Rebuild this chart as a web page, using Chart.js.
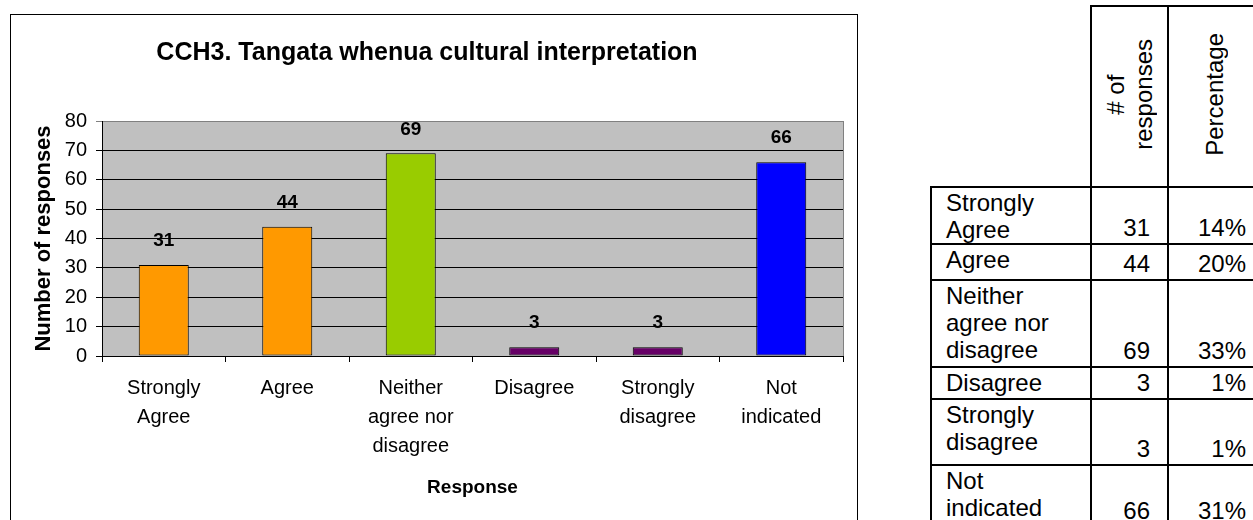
<!DOCTYPE html>
<html>
<head>
<meta charset="utf-8">
<script src="https://cdn.jsdelivr.net/npm/chart.js@4.4.0/dist/chart.umd.min.js"></script>
<style>
body{margin:0;background:#fff;overflow:hidden;font-family:"Liberation Sans",Arial,sans-serif;}
#box{position:absolute;left:10px;top:14px;width:846px;height:512px;border:1px solid #000;}
#responseChart{display:block;}
#tbl{position:absolute;left:930px;top:5px;width:333px;border-collapse:collapse;table-layout:fixed;font-size:24px;line-height:27px;color:#000;}
#tbl td,#tbl th{border:2px solid #000;padding:0;font-weight:normal;}
#tbl th.blank{border:none;}
#tbl th{vertical-align:middle;text-align:center;}
#tbl td.lab{vertical-align:top;text-align:left;padding:1px 0 0 14px;}
#tbl td.num{vertical-align:bottom;text-align:right;padding:0 17px 2px 0;}
#tbl td.pct{padding-right:15px;}
.rot{writing-mode:vertical-rl;transform:rotate(180deg);display:inline-block;text-align:center;line-height:28px;}
</style>
</head>
<body>
<div id="box"><canvas id="responseChart" width="846" height="506"></canvas></div>
<table id="tbl"></table>
<script>
const categories = [['Strongly','Agree'],['Agree'],['Neither','agree nor','disagree'],['Disagree'],['Strongly','disagree'],['Not','indicated']];
const responses = [31,44,69,3,3,66];
const percentages = [14,20,33,1,1,31];
const yMin = 0, yMax = 80, yStep = 10;

const barColors = ['#ff9900','#ff9900','#99cc00','#660066','#660066','#0000ff'];
const rowHeights = [56,36,87,32,66,62];
const FONT = '"Liberation Sans", Arial, sans-serif';

// grey plot background + grey right edge
const plotBg = {
  id:'plotBg',
  beforeDraw(chart){
    const {ctx, chartArea:a} = chart;
    ctx.save();
    ctx.fillStyle = '#c0c0c0';
    ctx.fillRect(a.left, a.top, a.right-a.left, a.bottom-a.top);
    ctx.restore();
  },
  beforeDatasetsDraw(chart){
    const {ctx, chartArea:a} = chart;
    ctx.save();
    ctx.strokeStyle = '#808080';
    ctx.lineWidth = 1;
    ctx.beginPath();
    ctx.moveTo(a.right+0.5, a.top);
    ctx.lineTo(a.right+0.5, a.bottom);
    ctx.stroke();
    ctx.restore();
  }
};

// value labels over the bars
const barValues = {
  id:'barValues',
  afterDatasetsDraw(chart){
    const {ctx} = chart;
    const meta = chart.getDatasetMeta(0);
    ctx.save();
    ctx.font = 'bold 19px ' + FONT;
    ctx.fillStyle = '#000';
    ctx.textAlign = 'center';
    ctx.textBaseline = 'middle';
    meta.data.forEach((bar,i)=>{
      ctx.fillText(String(responses[i]), bar.x, bar.y - 24);
    });
    ctx.restore();
  }
};

new Chart(document.getElementById('responseChart'), {
  type:'bar',
  data:{
    labels: categories,
    datasets:[{
      data: responses,
      backgroundColor: barColors,
      borderColor:'#000',
      borderWidth:1,
      borderSkipped:false,
      categoryPercentage:1,
      barPercentage:0.405
    }]
  },
  options:{
    responsive:false,
    animation:false,
    layout:{padding:{left:0,right:14,top:0,bottom:0}},
    plugins:{
      legend:{display:false},
      tooltip:{enabled:false},
      title:{
        display:true,
        text:'CCH3. Tangata whenua cultural interpretation',
        color:'#000',
        font:{family:FONT,size:25,weight:'bold',lineHeight:1.2},
        padding:{top:23,bottom:53}
      }
    },
    scales:{
      x:{
        grid:{drawOnChartArea:false,drawTicks:true,tickLength:6,color:'#000',offset:true},
        border:{color:'#000',width:1},
        ticks:{color:'#000',font:{family:FONT,size:20,lineHeight:1.45},padding:12,autoSkip:false,maxRotation:0},
        title:{display:true,text:'Response',color:'#000',font:{family:FONT,size:19,weight:'bold',lineHeight:1.2},padding:{top:0,bottom:22}},
        afterFit(s){ s.height = 165; }
      },
      y:{
        min:yMin, max:yMax,
        grid:{color:(c)=> c.tick && c.tick.value===yMax ? '#808080' : '#000', tickLength:6},
        border:{color:'#000',width:1},
        ticks:{stepSize:yStep,color:'#000',font:{family:FONT,size:20},padding:9},
        title:{display:true,text:'Number of responses',color:'#000',font:{family:FONT,size:22,weight:'bold',lineHeight:1.2},padding:{top:20,bottom:0}},
        afterFit(s){ s.width = 91; }
      }
    }
  },
  plugins:[plotBg, barValues]
});

// side table built from the same arrays
const tbl = document.getElementById('tbl');
let html = '<colgroup><col style="width:160px"><col style="width:77px"><col style="width:94px"></colgroup>';
html += '<tr style="height:181px"><th class="blank"></th><th><span class="rot"># of<br>responses</span></th><th><span class="rot">Percentage</span></th></tr>';
categories.forEach((c,i)=>{
  html += '<tr style="height:'+rowHeights[i]+'px"><td class="lab">'+c.join('<br>')+'</td>'+
          '<td class="num">'+responses[i]+'</td><td class="num pct">'+percentages[i]+'%</td></tr>';
});
tbl.innerHTML = html;
</script>
</body>
</html>
